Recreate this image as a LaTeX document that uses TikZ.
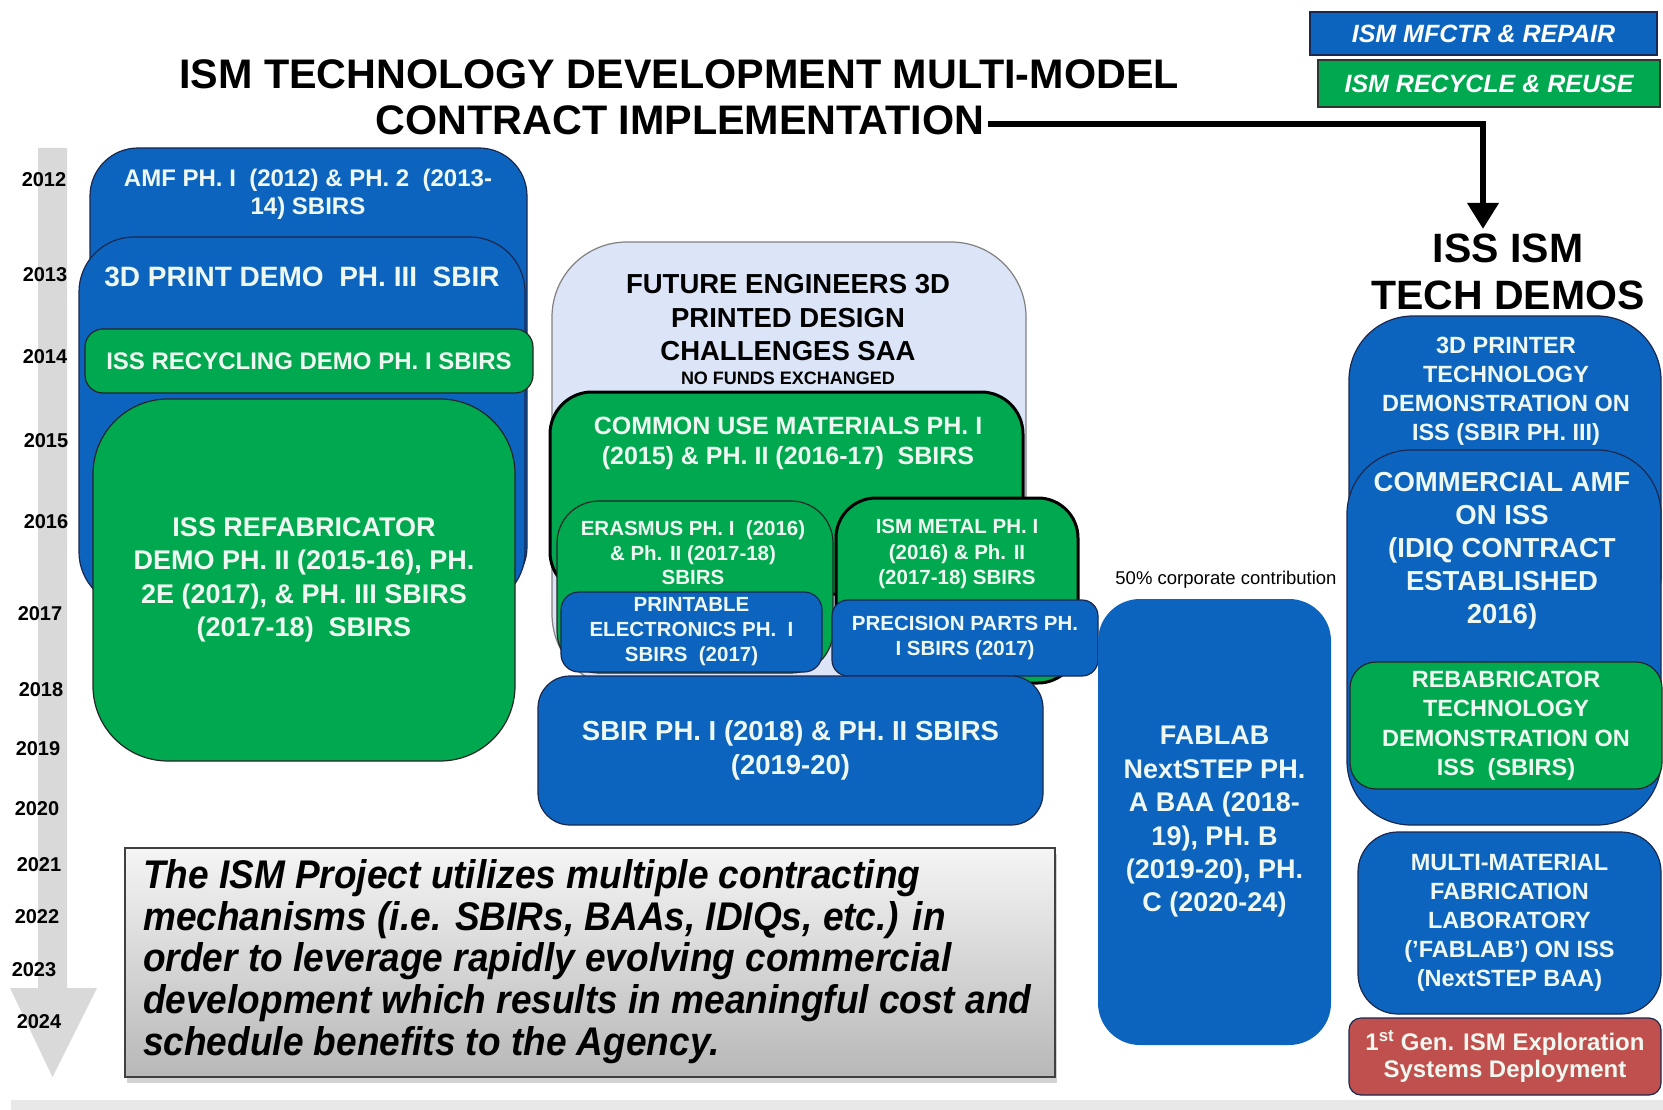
\documentclass[tikz,border=0pt]{standalone}
\usepackage{fontspec}
\setmainfont{Liberation Sans}
\newfontfamily\narrowfont[FakeStretch=0.925]{Liberation Sans}
\usetikzlibrary{arrows.meta,shadows}
\definecolor{ismblue}{RGB}{12,100,190}
\definecolor{ismgreen}{RGB}{0,168,80}
\definecolor{ismred}{RGB}{192,80,77}
\definecolor{navy}{RGB}{25,40,80}
\definecolor{paleblue}{RGB}{220,229,248}
\definecolor{boxtext}{RGB}{238,248,240}
\definecolor{railgray}{RGB}{217,217,217}

\begin{document}
\begin{tikzpicture}[x=1pt,y=-1pt,>=Latex,
  bb/.style={draw=navy,fill=ismblue,line width=1.2,inner sep=0},
  gb/.style={draw=black!85,fill=ismgreen,line width=1.2,inner sep=0},
  txt/.style 2 args={text=boxtext,align=center,inner sep=0,font=\bfseries\fontsize{#1}{#2}\selectfont},
  year/.style={font=\bfseries\fontsize{20}{24}\selectfont,inner sep=0},
  legend/.style={text=white,font=\bfseries\itshape\fontsize{25}{30}\selectfont,inner sep=0,line width=1.2}]
\useasboundingbox (0,0) rectangle (1663,1110);
\fill[railgray] (38,148) -- (67,148) -- (67,988) -- (97,988) -- (52.5,1077) -- (10,988) -- (38,988) -- cycle;
\fill[black!9] (11,1100) rectangle (1663,1110);
\foreach \yr/\xx/\yy in {2012/44/180,2013/45/275,2014/45/357,2015/46/441,2016/46/522,2017/40/614,2018/41/690,
  2019/38/749,2020/37/809,2021/39/865,2022/37/917,2023/34/970,2024/39/1022}
  \node[year] (y\yr) at (\xx,\yy) {\yr};

% SBIR column
\node[bb,rounded corners=48,minimum width=437,minimum height=447] (amf) at (308.5,371.5) {};
\node[txt={24}{28}] (amftext) at (308,194) {AMF PH. I~ (2012) \& PH. 2~ (2013-\\14) SBIRS};
\node[bb,rounded corners=55,minimum width=446,minimum height=370] (print3d) at (302,422) {};
\node[txt={28}{32}] (print3dtext) at (302,277) {3D PRINT DEMO~ PH. III~ SBIR};
\node[gb,rounded corners=18,minimum width=448,minimum height=64,txt={24}{28}] (recycling) at (309,361) {ISS RECYCLING DEMO PH. I SBIRS};
\node[gb,rounded corners=75,minimum width=422,minimum height=362,txt={27}{33.3}] (refab) at (304,580) {ISS REFABRICATOR\\DEMO PH. II (2015-16), PH.\\2E (2017), \& PH. III SBIRS\\(2017-18)~ SBIRS};

% challenges and materials
\node[draw=black!50,fill=paleblue,line width=1.2,rounded corners=75,minimum width=474,minimum height=447] (future) at (789,465.5) {};
\node[txt={27.5}{33.5},text=black] (futuretext) at (788,318) {FUTURE ENGINEERS 3D\\PRINTED DESIGN\\CHALLENGES SAA};
\node[font=\bfseries\fontsize{18}{20}\selectfont,inner sep=0] (nofunds) at (788,378) {NO FUNDS EXCHANGED};
\node[gb,draw=black,line width=3,rounded corners=42,minimum width=473,minimum height=202] (common) at (786.5,493) {};
\node[txt={25}{30}] (commontext) at (788,443) {COMMON USE MATERIALS PH. I\\(2015) \& PH. II (2016-17)~ SBIRS};
\node[gb,rounded corners=42,minimum width=276,minimum height=172] (erasmus) at (695,587) {};
\node[txt={20.5}{24.5}] (erasmustext) at (693,553) {ERASMUS PH. I~ (2016)\\\& Ph. II (2017-18)\\SBIRS};
\node[bb,rounded corners=18,minimum width=261,minimum height=80,txt={20.5}{25}] (printable) at (691.5,632) {PRINTABLE\\ELECTRONICS PH.~ I\\SBIRS~ (2017)};
\node[gb,draw=black,line width=3,rounded corners=40,minimum width=242,minimum height=185] (metal) at (957,590.5) {};
\node[txt={20.5}{25.5}] (metaltext) at (957,554) {ISM METAL PH. I\\(2016) \& Ph. II\\(2017-18) SBIRS};
\node[bb,rounded corners=16,minimum width=266,minimum height=76,txt={20.5}{25}] (precision) at (965,638) {PRECISION PARTS PH.\\I SBIRS (2017)};
\node[bb,rounded corners=32,minimum width=505,minimum height=149,txt={27.5}{34}] (sbir) at (790.5,750.5) {SBIR PH. I (2018) \& PH. II SBIRS\\(2019-20)};

% NextSTEP
\node[font=\fontsize{18.5}{22}\selectfont,inner sep=0] (corporate) at (1226,580) {50\% corporate contribution};
\node[fill=ismblue,rounded corners=42,minimum width=233,minimum height=446,txt={27}{33.4}] (fablab) at (1214.5,822) {FABLAB\\NextSTEP PH.\\A BAA (2018-\\19), PH. B\\(2019-20), PH.\\C (2020-24)};

% tech demos on ISS
\node[font=\bfseries\fontsize{41}{47}\selectfont,align=center,inner sep=0] (demos) at (1508,271.5) {ISS ISM\\TECH DEMOS};
\node[bb,rounded corners=64,minimum width=312,minimum height=324] (printer) at (1505,478) {};
\node[txt={23.5}{29}] (printertext) at (1506,391.5) {3D PRINTER\\TECHNOLOGY\\DEMONSTRATION ON\\ISS (SBIR PH. III)};
\node[bb,rounded corners=64,minimum width=314,minimum height=375] (commercial) at (1504,637.5) {};
\node[txt={27.5}{33}] (commercialtext) at (1502,551) {COMMERCIAL AMF\\ON ISS\\(IDIQ CONTRACT\\ESTABLISHED\\2016)};
\node[gb,rounded corners=26,minimum width=312,minimum height=127,txt={23.5}{29.5}] (rebab) at (1506,725.5) {REBABRICATOR\\TECHNOLOGY\\DEMONSTRATION ON\\ISS~ (SBIRS)};
\node[bb,rounded corners=40,minimum width=303,minimum height=182,txt={23.5}{29}] (multi) at (1509.5,923) {MULTI-MATERIAL\\FABRICATION\\LABORATORY\\('FABLAB') ON ISS\\(NextSTEP BAA)};
\node[draw=navy,fill=ismred,line width=1.2,rounded corners=12,minimum width=312,minimum height=77,txt={24}{27}] (firstgen) at (1505,1056.5) {1\textsuperscript{st} Gen. ISM Exploration\\Systems Deployment};

% note box
\node[draw=black!75,line width=1.5,top color=black!4,bottom color=black!28,drop shadow={shadow xshift=2,shadow yshift=6,opacity=.35},minimum width=930,minimum height=229,inner sep=0] (note) at (590,962.5) {};
\node[anchor=west,align=left,inner sep=0,font=\narrowfont\bfseries\itshape\fontsize{40}{41.7}\selectfont] (notetext) at (143,961.5) {The ISM Project utilizes multiple contracting\\mechanisms (i.e. SBIRs, BAAs, IDIQs, etc.) in\\order to leverage rapidly evolving commercial\\development which results in meaningful cost and\\schedule benefits to the Agency.};

% legend and heading
\node[legend,draw=navy,fill=ismblue,minimum width=347,minimum height=43] (mfctr) at (1483.5,33.5) {ISM MFCTR \& REPAIR};
\node[legend,draw=black!80,fill=ismgreen,minimum width=342,minimum height=47] (recycle) at (1489,83.5) {ISM RECYCLE \& REUSE};
\node[font=\bfseries\fontsize{41.3}{46}\selectfont] (title1) at (679,74) {ISM TECHNOLOGY DEVELOPMENT MULTI-MODEL};
\node[font=\bfseries\fontsize{41.3}{46}\selectfont] (title2) at (680,120) {CONTRACT IMPLEMENTATION};
\coordinate (tip) at (1483,229);
\draw[line width=6.5,-{Triangle[width=30,length=26]}] ([yshift=-4]title2.east) -| (tip);
\end{tikzpicture}
\end{document}
